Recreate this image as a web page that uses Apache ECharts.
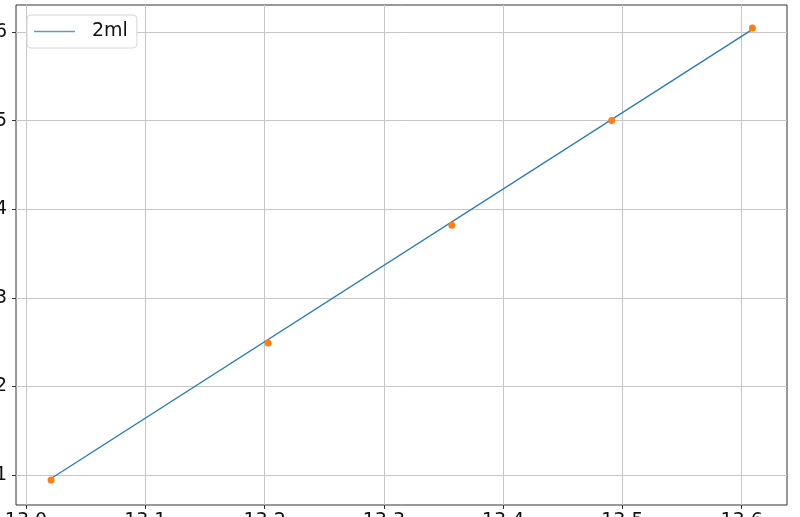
<!DOCTYPE html>
<html>
<head>
<meta charset="utf-8">
<script src="https://cdn.jsdelivr.net/npm/echarts@6/dist/echarts.min.js"></script>
<style>
  html, body { margin: 0; padding: 0; background: #fff; }
  #chart { width: 800px; height: 517px; }
</style>
</head>
<body>
<div id="chart"></div>
<script>
// measured points (orange dots)
const pointX = [13.021, 13.203, 13.357, 13.491, 13.609];
const pointY = [0.944, 2.49, 3.82, 5.0, 6.045];

// fitted line end points (blue line, "2ml")
const fitX = [13.021, 13.609];
const fitY = [0.96, 6.03];

const xTicks = [13.0, 13.1, 13.2, 13.3, 13.4, 13.5, 13.6];
const yTicks = [1, 2, 3, 4, 5, 6];

const FONT = "DejaVu Sans";

const chart = echarts.init(document.getElementById("chart"), null, { renderer: "canvas" });

chart.setOption({
  animation: false,
  backgroundColor: "#fff",
  textStyle: { fontFamily: FONT },
  grid: {
    left: 16, right: 13, top: 5, bottom: 12,
    outerBoundsMode: "none",
    containLabel: false,
    show: true, borderColor: "#333", borderWidth: 1
  },
  legend: {
    left: 27, top: 15,
    padding: [7, 9, 7, 7],
    backgroundColor: "#fff",
    borderColor: "#d6d6d6",
    borderWidth: 1,
    borderRadius: 4,
    itemWidth: 41,
    itemHeight: 19,
    itemGap: 10,
    textStyle: { fontSize: 19, color: "#111", fontFamily: FONT, padding: [0, 0, 0, 12] },
    data: [{ name: "2ml", icon: "path://M0,9 L41,9 L41,10.5 L0,10.5 Z", itemStyle: { color: "#5b9bcb" } }]
  },
  xAxis: {
    type: "value",
    min: 12.9916,
    max: 13.638,
    axisLine: { show: false },
    axisTick: { show: true, length: 4, customValues: xTicks, lineStyle: { color: "#333" } },
    axisLabel: {
      customValues: xTicks, margin: 7, fontSize: 19, color: "#111",
      formatter: v => v.toFixed(1)
    },
    splitLine: { show: true, lineStyle: { color: "#c6c6c6", width: 1 } }
  },
  yAxis: {
    type: "value",
    min: 0.661,
    max: 6.305,
    axisLine: { show: false },
    axisTick: { show: true, length: 4, customValues: yTicks, lineStyle: { color: "#333" } },
    axisLabel: {
      customValues: yTicks, margin: 9, fontSize: 19, color: "#111",
      formatter: v => String(Math.round(v))
    },
    splitLine: { show: true, lineStyle: { color: "#c6c6c6", width: 1 } }
  },
  series: [
    {
      name: "2ml",
      type: "line",
      data: fitX.map((x, i) => [x, fitY[i]]),
      symbol: "none",
      lineStyle: { color: "#2b7bb9", width: 1.4 },
      itemStyle: { color: "#2b7bb9" },
      z: 3
    },
    {
      name: "points",
      type: "scatter",
      data: pointX.map((x, i) => [x, pointY[i]]),
      symbolSize: 7,
      itemStyle: { color: "#ff7f0e", opacity: 1 },
      z: 4
    }
  ]
});
</script>
</body>
</html>
